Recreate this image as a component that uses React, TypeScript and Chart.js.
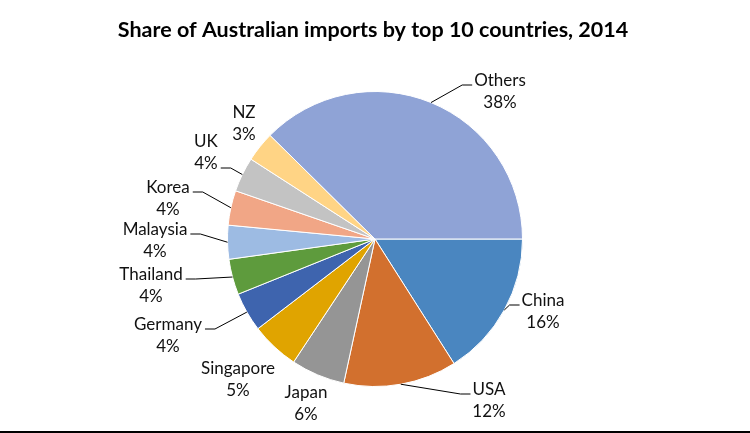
import React, { useEffect, useRef } from 'react';
import { Chart, registerables } from 'chart.js';

Chart.register(...registerables);

const TITLE = 'Share of Australian imports by top 10 countries, 2014';
const countries = ['China', 'USA', 'Japan', 'Singapore', 'Germany', 'Thailand', 'Malaysia', 'Korea', 'UK', 'NZ', 'Others'];
const shares = [16.0, 12.4, 5.9, 5.3, 4.3, 3.9, 3.7, 3.8, 3.8, 3.3, 37.6];
const colors = ['#4A86C0', '#D2702E', '#959595', '#E0A400', '#3E64AE', '#5E9B3D', '#9DBBE3', '#F1A686', '#C3C3C3', '#FFD485', '#8FA3D6'];

// label placement (first text line centre relative to pie centre), leader line flag, row the leader attaches to
const labelLayout = [
  { dx: 168, dy: 62, leader: true, row: 0 },
  { dx: 114, dy: 151, leader: true, row: 0 },
  { dx: -69, dy: 154, leader: false, row: 0 },
  { dx: -137, dy: 130, leader: false, row: 0 },
  { dx: -207, dy: 86, leader: true, row: 0 },
  { dx: -224, dy: 36, leader: true, row: 0 },
  { dx: -220, dy: -9, leader: true, row: 0 },
  { dx: -207, dy: -51, leader: true, row: 0 },
  { dx: -169, dy: -97, leader: true, row: 1 },
  { dx: -131, dy: -126, leader: false, row: 0 },
  { dx: 125, dy: -158, leader: true, row: 0 },
];

const LABEL_FONT = '17px Lato, "Open Sans", sans-serif';
const LINE_GAP = 22;

const labelPlugin = {
  id: 'pieLabels',
  afterDraw(chart: any) {
    const ctx = chart.ctx as CanvasRenderingContext2D;
    const meta = chart.getDatasetMeta(0);
    ctx.save();
    // title
    ctx.fillStyle = '#000';
    ctx.font = 'bold 21.5px Lato, "Open Sans", sans-serif';
    ctx.textAlign = 'center';
    ctx.textBaseline = 'middle';
    ctx.fillText(TITLE, 373, 30);

    ctx.font = LABEL_FONT;
    meta.data.forEach((arc: any, i: number) => {
      const lay = labelLayout[i];
      const cx = arc.x;
      const cy = arc.y;
      const mid = (arc.startAngle + arc.endAngle) / 2;
      const r = arc.outerRadius;
      const lines = [countries[i], Math.round(shares[i]) + '%'];
      const tx = cx + lay.dx;
      const ty = cy + lay.dy;
      ctx.fillStyle = '#111';
      ctx.textAlign = 'center';
      ctx.textBaseline = 'middle';
      lines.forEach((t, k) => ctx.fillText(t, tx, ty + k * LINE_GAP));
      if (lay.leader) {
        const ex = cx + Math.cos(mid) * r;
        const ey = cy + Math.sin(mid) * r;
        const w = ctx.measureText(lines[lay.row]).width;
        const ly = ty + lay.row * LINE_GAP + 4;
        ctx.strokeStyle = '#000';
        ctx.lineWidth = 1;
        ctx.beginPath();
        if (lay.dx > 0) {
          const xEnd = tx - w / 2 - 2;
          ctx.moveTo(ex, ey);
          ctx.lineTo(xEnd - 10, ly);
          ctx.lineTo(xEnd, ly);
        } else {
          const xStart = tx + w / 2 + 3;
          ctx.moveTo(ex, ey);
          ctx.lineTo(xStart + 10, ly);
          ctx.lineTo(xStart, ly);
        }
        ctx.stroke();
      }
    });
    // bottom rule
    ctx.fillStyle = '#000';
    ctx.fillRect(0, 431, chart.width, 2);
    ctx.restore();
  },
};

export default function App() {
  const ref = useRef<HTMLCanvasElement | null>(null);
  useEffect(() => {
    if (!ref.current) return;
    const chart = new Chart(ref.current, {
      type: 'pie',
      data: {
        labels: countries,
        datasets: [
          {
            data: shares,
            backgroundColor: colors,
            borderColor: '#ffffff',
            borderWidth: 1,
          },
        ],
      },
      options: {
        responsive: false,
        animation: false,
        devicePixelRatio: 1,
        rotation: 90,
        layout: { padding: { left: 227, right: 227, top: 91, bottom: 46 } },
        plugins: {
          legend: { display: false },
          title: { display: false },
          tooltip: { enabled: false },
        },
      },
      plugins: [labelPlugin],
    });
    return () => chart.destroy();
  }, []);
  return (
    <div style={{ position: 'fixed', left: 0, top: 0, width: 750, height: 433, background: '#fff' }}>
      <canvas ref={ref} width={750} height={433} style={{ display: 'block' }} />
    </div>
  );
}
